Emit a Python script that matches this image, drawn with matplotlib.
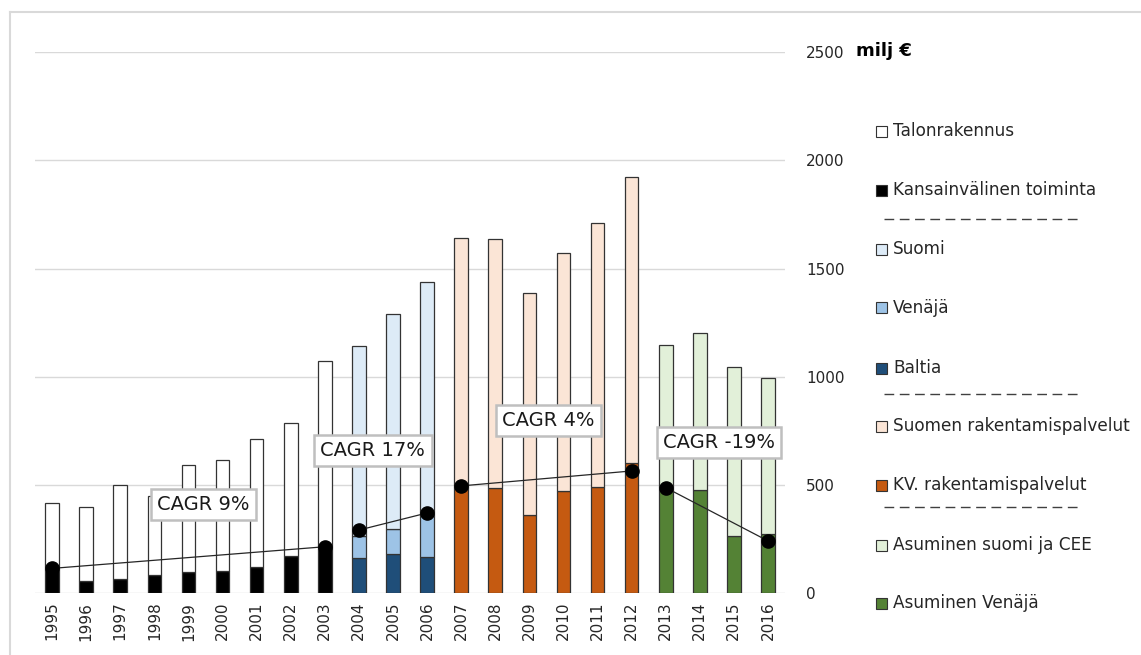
import numpy as np
import matplotlib.pyplot as plt
from matplotlib.patches import Rectangle
from matplotlib.lines import Line2D

# vuodet ja segmentit (milj €)
years = list(range(1995, 2017))

yrs_a = years[0:9]          # 1995-2003
kansainvalinen = [110, 55, 66, 86, 97, 101, 121, 172, 215]
talonrakennus = [305, 344, 436, 364, 494, 516, 592, 616, 859]

yrs_b = years[9:12]         # 2004-2006
baltia = [161, 180, 169]
venaja = [103, 116, 189]
suomi = [880, 994, 1082]

yrs_c = years[12:18]        # 2007-2012
kv_rak = [491, 488, 361, 471, 491, 602]
suomen_rak = [1149, 1148, 1024, 1099, 1221, 1322]

yrs_d = years[18:22]        # 2013-2016
asum_venaja = [491, 476, 265, 272]
asum_suomi = [658, 724, 778, 722]

# CAGR-viivat: (alkuvuosi, loppuvuosi, alkuarvo, loppuarvo, teksti, tekstin paikka)
cagr_segments = [
    (1995, 2003, 115, 215, "CAGR 9%", (4.43, 411)),
    (2004, 2006, 292, 371, "CAGR 17%", (9.41, 660)),
    (2007, 2012, 496, 565, "CAGR 4%", (14.57, 799)),
    (2013, 2016, 488, 242, "CAGR -19%", (19.56, 697)),
]

colors = {
    "Talonrakennus": "#FFFFFF",
    "Kansainvälinen toiminta": "#000000",
    "Suomi": "#DDEBF7",
    "Venäjä": "#9DC3E6",
    "Baltia": "#1F4E79",
    "Suomen rakentamispalvelut": "#FBE5D6",
    "KV. rakentamispalvelut": "#C55A11",
    "Asuminen suomi ja CEE": "#E2F0D9",
    "Asuminen Venäjä": "#548235",
}

W, H = 1141, 655
fig = plt.figure(figsize=(W / 100, H / 100), dpi=100)
ax = fig.add_axes([35 / W, 1 - 593.3 / H, 750 / W, (593.3 - 52) / H])

bw = 0.4
ekw = dict(edgecolor="#333333", linewidth=0.9, width=bw, zorder=2)


def pos(ys):
    return np.array(ys) - 1995


def stack(ys, parts):
    bottom = np.zeros(len(ys))
    for name, vals in parts:
        ax.bar(pos(ys), vals, bottom=bottom, color=colors[name], **ekw)
        bottom += np.array(vals)


stack(yrs_a, [("Kansainvälinen toiminta", kansainvalinen), ("Talonrakennus", talonrakennus)])
stack(yrs_b, [("Baltia", baltia), ("Venäjä", venaja), ("Suomi", suomi)])
stack(yrs_c, [("KV. rakentamispalvelut", kv_rak), ("Suomen rakentamispalvelut", suomen_rak)])
stack(yrs_d, [("Asuminen Venäjä", asum_venaja), ("Asuminen suomi ja CEE", asum_suomi)])

for y0, y1, v0, v1, txt, (tx, ty) in cagr_segments:
    ax.plot([y0 - 1995, y1 - 1995], [v0, v1], color="#262626", lw=0.9,
            marker="o", markersize=9.5, markerfacecolor="black",
            markeredgecolor="black", zorder=4)
    ax.text(tx, ty, txt, ha="center", va="center", fontsize=14, color="#1a1a1a",
            zorder=5,
            bbox=dict(boxstyle="square,pad=0.32", facecolor="white",
                      edgecolor="#BFBFBF", linewidth=1.8))

ax.set_xlim(-0.5, 21.5)
ax.set_ylim(0, 2500)
ax.set_xticks(range(len(years)))
ax.set_xticklabels([str(y) for y in years], rotation=90, fontsize=11, color="#262626")
ax.set_yticks(range(0, 2501, 500))
ax.yaxis.tick_right()
ax.tick_params(axis="y", length=0, pad=15, labelsize=11, labelcolor="#262626")
ax.tick_params(axis="x", length=0, pad=6)
ax.yaxis.grid(True, color="#D9D9D9", linewidth=1)
ax.set_axisbelow(True)
for s in ax.spines.values():
    s.set_visible(False)

fig.text(856 / W, 1 - 51 / H, "milj €", fontsize=13, fontweight="bold", color="black",
         va="center", ha="left")

# selite oikealla
legend_rows = [
    ("Talonrakennus", 131), ("Kansainvälinen toiminta", 190), (None, 219),
    ("Suomi", 249), ("Venäjä", 308), ("Baltia", 368), (None, 394),
    ("Suomen rakentamispalvelut", 426), ("KV. rakentamispalvelut", 485), (None, 507),
    ("Asuminen suomi ja CEE", 545), ("Asuminen Venäjä", 603),
]
for name, yp in legend_rows:
    if name is None:
        fig.add_artist(Line2D([884 / W, 1078 / W], [1 - yp / H, 1 - yp / H],
                              transform=fig.transFigure, color="#404040", lw=1,
                              linestyle=(0, (7, 4))))
        continue
    fig.add_artist(Rectangle((876 / W, 1 - (yp + 5.5) / H), 11 / W, 11 / H,
                             transform=fig.transFigure, facecolor=colors[name],
                             edgecolor="#333333", linewidth=0.8))
    fig.text(893 / W, 1 - yp / H, name, fontsize=12.2, color="#262626", va="center", ha="left")

# kehys
fig.add_artist(Line2D([10 / W, 1], [1 - 12 / H, 1 - 12 / H], transform=fig.transFigure,
                      color="#D9D9D9", lw=1.5))
fig.add_artist(Line2D([10 / W, 10 / W], [0, 1 - 12 / H], transform=fig.transFigure,
                      color="#D9D9D9", lw=1.5))

fig.savefig("out.png", dpi=100)
